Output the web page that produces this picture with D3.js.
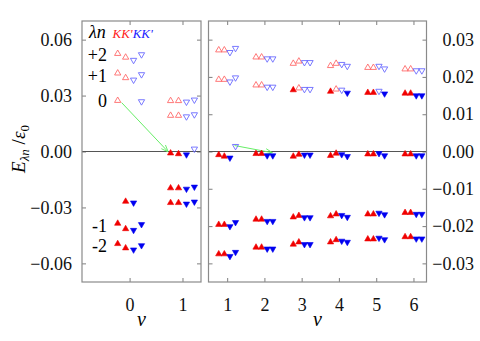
<!DOCTYPE html>
<html>
<head>
<meta charset="utf-8">
<script src="https://cdn.jsdelivr.net/npm/d3@7"></script>
<style>
  body { margin: 0; background: #fff; }
</style>
</head>
<body>
<div id="chart"></div>
<script>
// Columns: K (red), K' (red), K (blue), K' (blue)
var offsets = [-0.225, -0.075, 0.075, 0.225];
var colFill = ["#f00000", "#f00000", "#0000f0", "#0000f0"];
var colLine = ["#ff6a6a", "#ff6a6a", "#6a6aff", "#6a6aff"];
var colUp = [true, true, false, false];

// Rows per nu: top, second, near zero, lower, bottom
var E_nu0 = [
	[0.0525, 0.0505, 0.0490, 0.0520],
	[0.0420, 0.0395, 0.0384, 0.0413],
	[0.0273, -0.0268, -0.0275, 0.0268],
	[-0.0386, -0.0415, -0.0422, -0.0391],
	[-0.0495, -0.0518, -0.0527, -0.0504]
];
var occ_nu0 = [[0,0,0,0],[0,0,0,0],[0,1,1,0],[1,1,1,1],[1,1,1,1]];

var E_nu1 = [
	[0.0272, 0.0272, 0.0266, 0.0277],
	[0.0193, 0.0193, 0.0187, 0.0198],
	[-0.0009, -0.0013, -0.0017, 0.0014],
	[-0.0196, -0.0196, -0.0201, -0.0190],
	[-0.0275, -0.0275, -0.0281, -0.0270]
];
var occ_nu1 = [[0,0,0,0],[0,0,0,0],[1,1,1,0],[1,1,1,1],[1,1,1,1]];

var E_nu2 = [
	[0.0253, 0.0253, 0.0249, 0.0249],
	[0.0178, 0.0178, 0.0173, 0.0173],
	[-0.0006, -0.0006, -0.0011, -0.0011],
	[-0.0182, -0.0182, -0.0187, -0.0187],
	[-0.0257, -0.0257, -0.0261, -0.0261]
];
var occ_nu2 = [[0,0,0,0],[0,0,0,0],[1,1,1,1],[1,1,1,1],[1,1,1,1]];

var E_nu3 = [
	[0.0236, 0.0242, 0.0239, 0.0239],
	[0.0165, 0.0170, 0.0167, 0.0167],
	[-0.0013, -0.0008, -0.0009, -0.0009],
	[-0.0176, -0.0172, -0.0177, -0.0177],
	[-0.0249, -0.0243, -0.0249, -0.0249]
];
var occ_nu3 = [[0,0,0,0],[1,0,0,0],[1,1,1,1],[1,1,1,1],[1,1,1,1]];

var E_nu4 = [
	[0.0230, 0.0236, 0.0234, 0.0229],
	[0.0161, 0.0167, 0.0165, 0.0157],
	[-0.0011, -0.0005, -0.0008, -0.0013],
	[-0.0173, -0.0168, -0.0171, -0.0176],
	[-0.0243, -0.0237, -0.0240, -0.0243]
];
var occ_nu4 = [[0,0,0,0],[1,0,0,1],[1,1,1,1],[1,1,1,1],[1,1,1,1]];

var E_nu5 = [
	[0.0225, 0.0225, 0.0229, 0.0222],
	[0.0158, 0.0158, 0.0162, 0.0155],
	[-0.0007, -0.0007, -0.0005, -0.0011],
	[-0.0168, -0.0168, -0.0165, -0.0169],
	[-0.0235, -0.0235, -0.0232, -0.0236]
];
var occ_nu5 = [[0,0,0,0],[1,1,0,1],[1,1,1,1],[1,1,1,1],[1,1,1,1]];

var E_nu6 = [
	[0.0221, 0.0221, 0.0217, 0.0217],
	[0.0156, 0.0156, 0.0150, 0.0150],
	[-0.0007, -0.0007, -0.0011, -0.0011],
	[-0.0164, -0.0164, -0.0168, -0.0168],
	[-0.0229, -0.0229, -0.0234, -0.0234]
];
var occ_nu6 = [[0,0,0,0],[1,1,1,1],[1,1,1,1],[1,1,1,1],[1,1,1,1]];

var levelLabels = ["+2", "+1", "0", "-1", "-2"];
var ticksLeftY = [-0.06, -0.03, 0, 0.03, 0.06];
var ticksRightY = [-0.03, -0.02, -0.01, 0, 0.01, 0.02, 0.03];
var ticksLeftX = [0, 1];
var ticksRightX = [1, 2, 3, 4, 5, 6];

// Arrows: [nu0, E0, nu1, E1]
var arrowLeft = [-0.15, 0.0262, 0.72, 0.0001];
var arrowRight = [1.2, 0.0016, 2.2, -0.0003];

var serif = "'Liberation Serif', 'Times New Roman', serif";
var W = 480, H = 341;
var svg = d3.select("#chart").append("svg")
	.attr("width", W).attr("height", H);

svg.append("defs").append("marker")
	.attr("id", "arrowhead")
	.attr("viewBox", "0 0 10 10")
	.attr("refX", 9).attr("refY", 5)
	.attr("markerWidth", 7).attr("markerHeight", 7)
	.attr("orient", "auto")
	.append("path")
	.attr("d", "M0,1 L10,5 L0,9")
	.attr("fill", "none")
	.attr("stroke", "#66ee66")
	.attr("stroke-width", 1.3);

var plotTop = 21, plotBottom = 282;

var xL = d3.scaleLinear().domain([-0.9, 1.35]).range([82, 201]);
var yL = d3.scaleLinear().domain([-0.07, 0.07]).range([plotBottom, plotTop]);
var xR = d3.scaleLinear().domain([0.5, 6.35]).range([208.5, 426.5]);
var yR = d3.scaleLinear().domain([-0.035, 0.035]).range([plotBottom, plotTop]);

var frameColor = "#8a8a8a";

function drawPanel(x, y, xt, yt, labelSide) {
	var g = svg.append("g");
	var x0 = x.range()[0], x1 = x.range()[1];

	var styleAxis = function(sel) {
		sel.select(".domain").remove();
		sel.selectAll(".tick line").attr("stroke", frameColor).attr("stroke-width", 1.1);
		sel.selectAll(".tick text").attr("font-size", 18).attr("fill", "#111");
	};

	// inward ticks on all sides
	g.append("g").attr("transform", "translate(" + x0 + ",0)")
		.call(d3.axisLeft(y).tickValues(yt).tickSize(-4)
			.tickFormat(labelSide == "left" ? d3.format(".2f") : ""))
		.call(styleAxis)
		.call(function(s) { s.selectAll(".tick text").attr("x", -10); });
	g.append("g").attr("transform", "translate(" + x1 + ",0)")
		.call(d3.axisRight(y).tickValues(yt).tickSize(-4)
			.tickFormat(labelSide == "right" ? d3.format(".2f") : ""))
		.call(styleAxis)
		.call(function(s) {
			s.selectAll(".tick text").attr("x", 47.5).attr("text-anchor", "end");
		});
	g.append("g").attr("transform", "translate(0," + plotBottom + ")")
		.call(d3.axisBottom(x).tickValues(xt).tickSize(-4).tickFormat(d3.format("d")))
		.call(styleAxis)
		.call(function(s) { s.selectAll(".tick text").attr("y", 16); });
	g.append("g").attr("transform", "translate(0," + plotTop + ")")
		.call(d3.axisTop(x).tickValues(xt).tickSize(-4).tickFormat(""))
		.call(styleAxis);

	// zero line
	g.append("line")
		.attr("x1", x0).attr("x2", x1)
		.attr("y1", y(0)).attr("y2", y(0))
		.attr("stroke", "#555").attr("stroke-width", 1);

	// frame
	g.append("rect")
		.attr("x", x0).attr("y", plotTop)
		.attr("width", x1 - x0).attr("height", plotBottom - plotTop)
		.attr("fill", "none").attr("stroke", frameColor).attr("stroke-width", 1.2);

	// nu axis title
	g.append("text")
		.attr("x", (x0 + x1) / 2).attr("y", 326)
		.attr("text-anchor", "middle")
		.attr("font-size", 20).attr("font-style", "italic")
		.text("\u03bd");
	return g;
}

function pointsFor(nu, E, occ) {
	var pts = [];
	E.forEach(function(row, r) {
		row.forEach(function(v, c) {
			pts.push({ nu: nu + offsets[c], E: v, c: c, filled: occ[r][c] == 1 });
		});
	});
	return pts;
}

var triUp = d3.symbol().type(d3.symbolTriangle).size(17);

function drawMarkers(g, x, y, pts) {
	g.selectAll(null).data(pts).enter().append("path")
		.attr("d", triUp)
		.attr("transform", function(d) {
			return "translate(" + x(d.nu) + "," + y(d.E) + ")" + (colUp[d.c] ? "" : " rotate(180)");
		})
		.attr("fill", function(d) { return d.filled ? colFill[d.c] : "none"; })
		.attr("stroke", function(d) { return d.filled ? colFill[d.c] : colLine[d.c]; })
		.attr("stroke-width", function(d) { return d.filled ? 0.6 : 0.9; });
}

function drawArrow(g, x, y, a) {
	g.append("line")
		.attr("x1", x(a[0])).attr("y1", y(a[1]))
		.attr("x2", x(a[2])).attr("y2", y(a[3]))
		.attr("stroke", "#66ee66").attr("stroke-width", 1)
		.attr("marker-end", "url(#arrowhead)");
}

var gL = drawPanel(xL, yL, ticksLeftX, ticksLeftY, "left");
var gR = drawPanel(xR, yR, ticksRightX, ticksRightY, "right");

var ptsLeft = pointsFor(0, E_nu0, occ_nu0).concat(pointsFor(1, E_nu1, occ_nu1));
var ptsRight = [].concat(
	pointsFor(1, E_nu1, occ_nu1), pointsFor(2, E_nu2, occ_nu2),
	pointsFor(3, E_nu3, occ_nu3), pointsFor(4, E_nu4, occ_nu4),
	pointsFor(5, E_nu5, occ_nu5), pointsFor(6, E_nu6, occ_nu6));

drawArrow(gL, xL, yL, arrowLeft);
drawArrow(gR, xR, yR, arrowRight);
drawMarkers(gL, xL, yL, ptsLeft);
drawMarkers(gR, xR, yR, ptsRight);

// level labels next to nu = 0 column (use K-red value of each row)
gL.selectAll(null).data(levelLabels).enter().append("text")
	.attr("x", 107)
	.attr("y", function(d, i) {
		var v = i == 2 ? E_nu0[i][0] : (E_nu0[i][0] + E_nu0[i][1]) / 2;
		return yL(v) + 6;
	})
	.attr("text-anchor", "end")
	.attr("font-size", 18)
	.text(function(d) { return d; });

// legend header
gL.append("text").attr("x", 89).attr("y", 38)
	.attr("font-size", 18).attr("font-style", "italic")
	.text("\u03bbn");
var kk = gL.append("text").attr("x", 112.5).attr("y", 37.5)
	.attr("font-size", 13).attr("font-style", "italic");
kk.append("tspan").attr("fill", "#ff2020").text("KK'");
kk.append("tspan").attr("fill", "#2020ff").text("KK'");

// y axis title
var yt = svg.append("text")
	.attr("transform", "translate(25,149) rotate(-90)")
	.attr("text-anchor", "middle")
	.attr("font-size", 19).attr("font-style", "italic");
yt.append("tspan").text("E");
yt.append("tspan").attr("font-size", 13).attr("dy", 4).text("\u03bbn");
yt.append("tspan").attr("dy", -4).attr("font-style", "normal").text(" /");
yt.append("tspan").text("\u03b5");
yt.append("tspan").attr("font-size", 13).attr("font-style", "normal").attr("dy", 4).text("0");

// serif face on every text
svg.selectAll("text").style("font-family", serif);
</script>
</body>
</html>
